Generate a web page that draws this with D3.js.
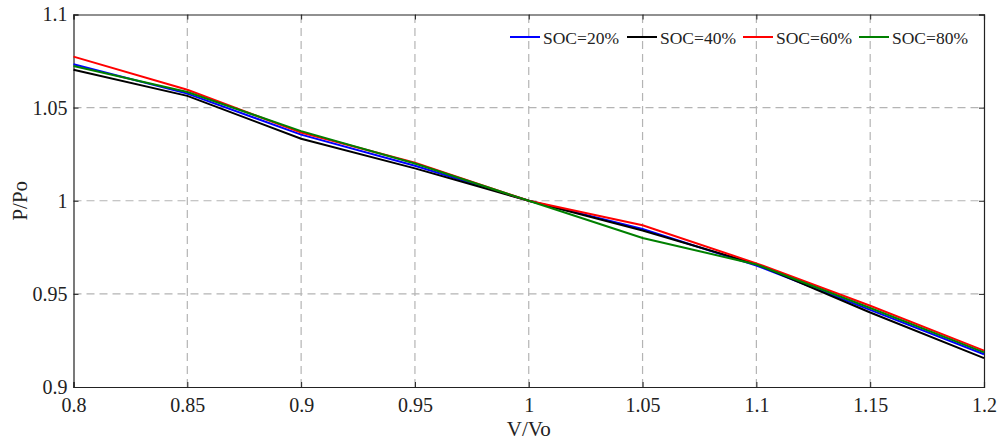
<!DOCTYPE html>
<html>
<head>
<meta charset="utf-8">
<script src="https://cdn.jsdelivr.net/npm/d3@7"></script>
<style>
  body { margin: 0; background: #fff; }
  svg text { font-family: "Liberation Serif", "Times New Roman", Times, serif; fill: #222; }
</style>
</head>
<body>
<svg id="chart" width="998" height="444"></svg>
<script>
// V/Vo values
const voltage = [0.8, 0.85, 0.9, 0.95, 1.0, 1.05, 1.1, 1.15, 1.2];

// P/Po per state of charge
const soc20 = [1.0733, 1.0575, 1.0355, 1.0188, 1.0, 0.9848, 0.9652, 0.9414, 0.9176];
const soc40 = [1.0703, 1.0563, 1.0333, 1.0174, 1.0, 0.9840, 0.9660, 0.9400, 0.9155];
const soc60 = [1.0774, 1.0596, 1.0366, 1.0204, 1.0, 0.9868, 0.9664, 0.9436, 0.9195];
const soc80 = [1.0724, 1.0584, 1.0374, 1.0200, 1.0, 0.9800, 0.9658, 0.9424, 0.9186];

const seriesNames = ['SOC=20%', 'SOC=40%', 'SOC=60%', 'SOC=80%'];
const seriesColors = ['#0000ff', '#000000', '#ff0000', '#008000'];
const seriesValues = [soc20, soc40, soc60, soc80];

const xTicks = [0.8, 0.85, 0.9, 0.95, 1, 1.05, 1.1, 1.15, 1.2];
const yTicks = [0.9, 0.95, 1, 1.05, 1.1];

const margin = { left: 73.5, right: 14, top: 14.5, bottom: 57 };
const width = 998, height = 444;

const svg = d3.select('#chart');

const x = d3.scaleLinear().domain([0.8, 1.2]).range([margin.left, width - margin.right]);
const y = d3.scaleLinear().domain([0.9, 1.1]).range([height - margin.bottom, margin.top]);

// grid
const grid = svg.append('g');
grid.selectAll('.gx').data(xTicks.slice(1, -1)).enter().append('line')
  .attr('x1', d => x(d)).attr('x2', d => x(d))
  .attr('y1', y(0.9)).attr('y2', y(1.1))
  .attr('stroke', '#b4b4b4').attr('stroke-width', 1.2).attr('stroke-dasharray', '8,5');
grid.selectAll('.gy').data(yTicks.slice(1, -1)).enter().append('line')
  .attr('x1', x(0.8)).attr('x2', x(1.2))
  .attr('y1', d => y(d)).attr('y2', d => y(d))
  .attr('stroke', '#b4b4b4').attr('stroke-width', 1.2).attr('stroke-dasharray', '8,5');

// axes (ticks point inward)
const fmt = d => d3.format('')(+d.toFixed(2));
const xAxis = svg.append('g')
  .attr('transform', `translate(0,${y(0.9)})`)
  .call(d3.axisBottom(x).tickValues(xTicks).tickSize(-5).tickPadding(11).tickFormat(fmt));
const yAxis = svg.append('g')
  .attr('transform', `translate(${x(0.8)},0)`)
  .call(d3.axisLeft(y).tickValues(yTicks).tickSize(-5).tickPadding(6).tickFormat(fmt));
[xAxis, yAxis].forEach(a => {
  a.select('.domain').attr('stroke', '#222').attr('stroke-width', 1.2);
  a.selectAll('.tick line').attr('stroke', '#222');
  a.selectAll('.tick text').style('font-size', '20px').attr('fill', '#222');
});

// top and right axes
const topAxis = svg.append('g')
  .attr('transform', `translate(0,${y(1.1)})`)
  .call(d3.axisTop(x).tickValues(xTicks).tickSize(-5).tickFormat(''));
const rightAxis = svg.append('g')
  .attr('transform', `translate(${x(1.2)},0)`)
  .call(d3.axisRight(y).tickValues(yTicks).tickSize(-5).tickFormat(''));
[topAxis, rightAxis].forEach(a => {
  a.select('.domain').attr('stroke', '#222').attr('stroke-width', 1.2);
  a.selectAll('.tick line').attr('stroke', '#222');
});

// lines
const line = d3.line().x((d, i) => x(voltage[i])).y(d => y(d));
svg.append('g').selectAll('path').data(seriesValues).enter().append('path')
  .attr('d', d => line(d))
  .attr('fill', 'none')
  .attr('stroke', (d, i) => seriesColors[i])
  .attr('stroke-width', 2);

// legend
const legendX = [510, 627, 743, 859];
const legend = svg.append('g').selectAll('g').data(seriesNames).enter().append('g')
  .attr('transform', (d, i) => `translate(${legendX[i]},37)`);
legend.append('line')
  .attr('x1', 0).attr('x2', 30).attr('y1', 0).attr('y2', 0)
  .attr('stroke', (d, i) => seriesColors[i]).attr('stroke-width', 2);
legend.append('text')
  .attr('x', 33).attr('y', 6.5)
  .style('font-size', '17.5px')
  .text(d => d);

// axis titles
svg.append('text')
  .attr('x', (x(0.8) + x(1.2)) / 2).attr('y', 436)
  .attr('text-anchor', 'middle')
  .style('font-size', '21px')
  .text('V/Vo');
svg.append('text')
  .attr('transform', `translate(27,${y(1)}) rotate(-90)`)
  .attr('text-anchor', 'middle')
  .style('font-size', '21px')
  .text('P/Po');
</script>
</body>
</html>
